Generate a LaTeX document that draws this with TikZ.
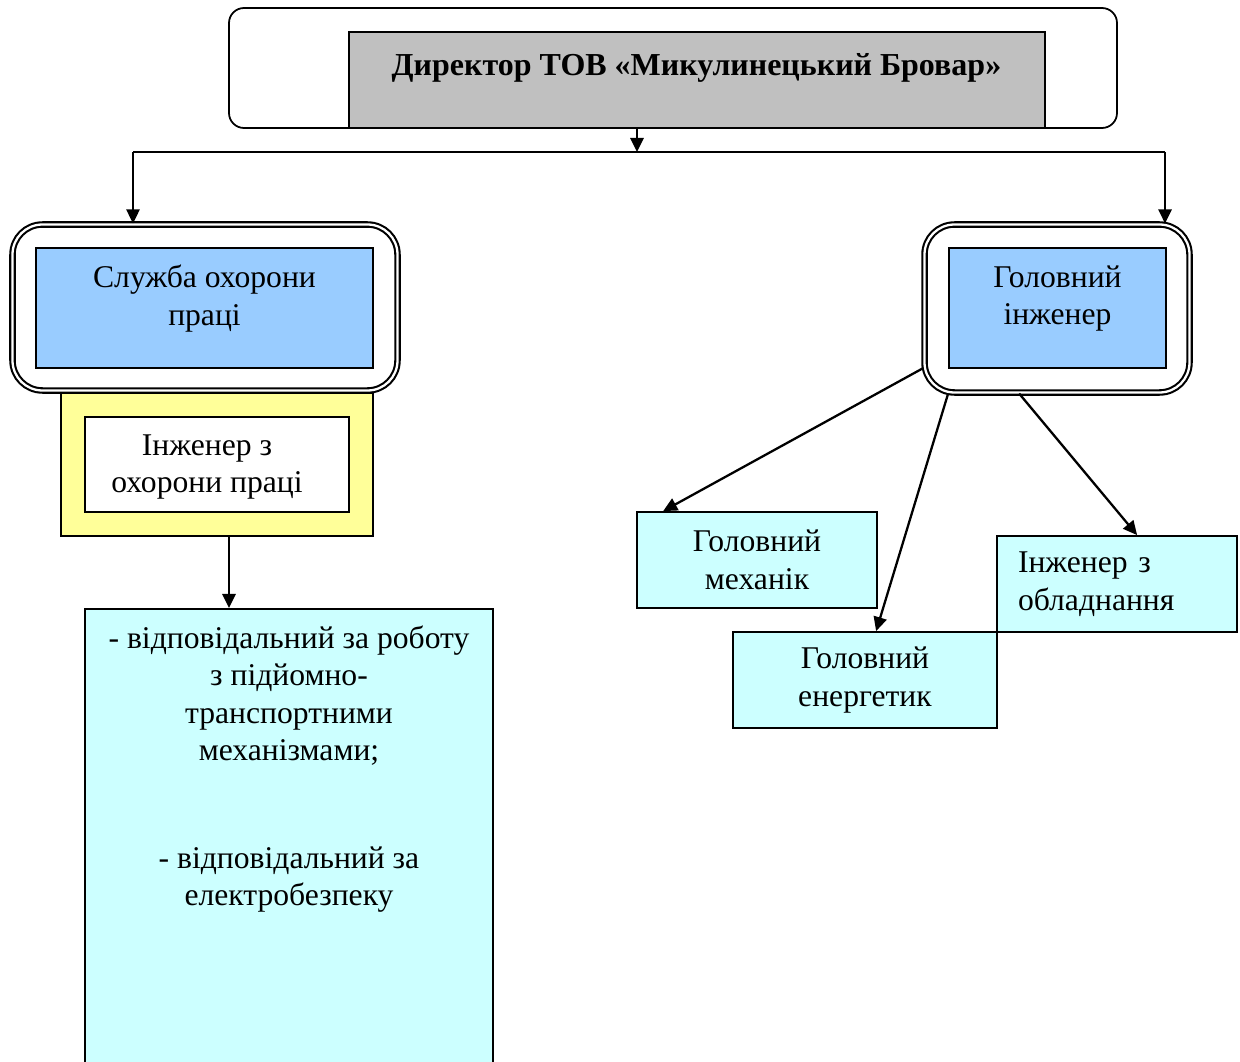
\documentclass[tikz,border=0pt]{standalone}
\usepackage{fontspec}
\setmainfont{Liberation Serif}
\usetikzlibrary{positioning,arrows.meta}

\definecolor{dirgray}{RGB}{192,192,192}
\definecolor{deptblue}{RGB}{153,204,255}
\definecolor{engyellow}{RGB}{255,255,153}
\definecolor{staffcyan}{RGB}{204,255,255}

\begin{document}
\begin{tikzpicture}[
    box/.style={draw,line width=1pt,inner sep=0pt},
    frame/.style={draw,line width=1.2pt,double=white,double distance=1.3pt,rounded corners=0.6cm,inner sep=0pt},
    txt/.style={align=center,inner sep=0pt,font=\fontsize{18}{21.3}\selectfont},
    link/.style={line width=1.3pt},
    arr/.style={-{Triangle[length=8pt,width=7.5pt]},line width=1.3pt}
]
    \useasboundingbox (0,0) rectangle (24.8,-21.22);

    % director
    \node [draw,line width=1pt,rounded corners=0.3cm,minimum width=17.76cm,minimum height=2.4cm] (dirframe) at (13.46,-1.36) {};
    \node [box,fill=dirgray,minimum width=13.92cm,minimum height=1.92cm] (dir) at (13.94,-1.6) {};
    \node [txt,font=\fontsize{18.2}{21.3}\selectfont\bfseries] (dirtxt) at (13.93,-1.36) {Директор ТОВ «Микулинецький Бровар»};

    % left branch
    \node [box,fill=engyellow,minimum width=6.24cm,minimum height=2.86cm] (yel) at (4.34,-9.29) {};
    \node [box,fill=white,minimum width=5.28cm,minimum height=1.9cm] (ing) at (4.34,-9.29) {};
    \node [txt] (ingtxt) at (4.14,-9.34) {Інженер з\\охорони праці};
    \node [frame,minimum width=7.7cm,minimum height=3.32cm] (so) at (4.1,-6.15) {};
    \node [box,fill=deptblue,minimum width=6.74cm,minimum height=2.4cm] (sluzhba) at (4.09,-6.16) {};
    \node [txt] (sotxt) at (4.09,-5.97) {Служба охорони\\праці};
    \node [box,fill=staffcyan,minimum width=8.16cm,minimum height=9.2cm,anchor=north] (duty) at (5.78,-12.16) {};
    \node [txt] (dutytxt) at (5.78,-15.38) {- відповідальний за роботу\\з підйомно-\\транспортними\\механізмами;\\[40pt]- відповідальний за\\електробезпеку};

    % right branch
    \node [frame,minimum width=5.3cm,minimum height=3.36cm] (gi) at (21.14,-6.17) {};
    \node [box,fill=deptblue,minimum width=4.34cm,minimum height=2.4cm] (ginz) at (21.15,-6.16) {};
    \node [txt] (gitxt) at (21.15,-5.97) {Головний\\інженер};
    \node [box,txt,fill=staffcyan,minimum width=4.8cm,minimum height=1.92cm] (mech) at (15.14,-11.2) {Головний\\механік};
    \node [box,txt,fill=staffcyan,minimum width=5.28cm,minimum height=1.92cm] (energ) at (17.3,-13.6) {Головний\\енергетик};
    \node [box,txt,fill=staffcyan,align=left,text width=3.96cm,inner xsep=0.42cm,minimum height=1.92cm] (obl) at (22.34,-11.68) {Інженер з\\обладнання};

    % connectors
    \coordinate (bus) at (12.74,-3.04);
    \coordinate (bl) at (2.66,-3.04);
    \coordinate (br) at (23.3,-3.04);
    \draw[arr] (bus |- dir.south) -- (bus);
    \draw[link] (bl) -- (br);
    \draw[arr] (bl) -- (bl |- so.north);
    \draw[arr] (br) -- (br |- gi.north);
    \draw[arr] ([xshift=0.24cm]yel.south) -- ([xshift=0.24cm]yel.south |- duty.north);
    \draw[arr] (gi.204) -- ([xshift=0.54cm]mech.north west);
    \draw[arr] (gi.218) -- ([xshift=2.88cm]energ.north west);
    \draw[arr] (gi.246) -- ([xshift=2.82cm]obl.north west);
\end{tikzpicture}
\end{document}
